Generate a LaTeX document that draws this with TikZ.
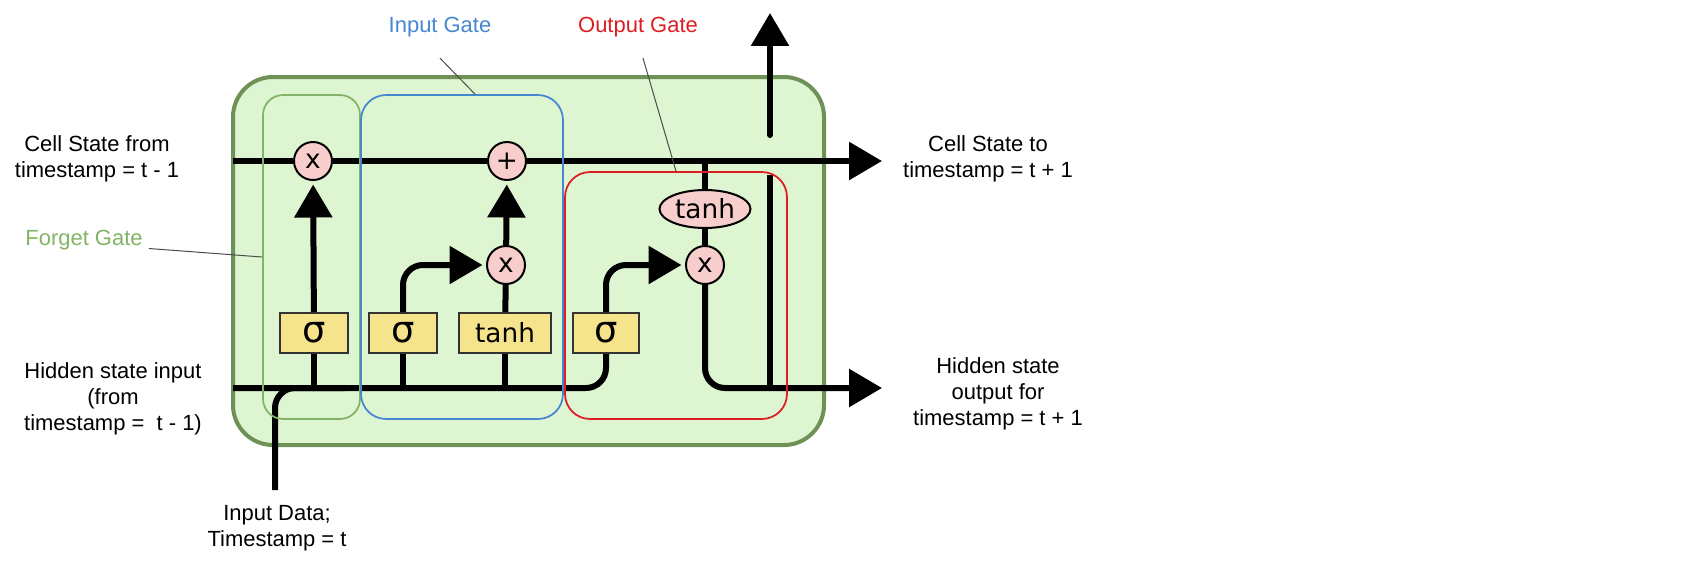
\documentclass[tikz,border=0pt]{standalone}
\usepackage{fontspec}
\setmainfont{Liberation Sans}
\newfontfamily\symfont{DejaVu Sans}
\usepackage{tikz}
\usetikzlibrary{arrows.meta,positioning,shapes.geometric,calc}
\definecolor{cellfill}{RGB}{222,245,209}
\definecolor{celledge}{RGB}{110,145,85}
\definecolor{forgetgreen}{RGB}{130,179,102}
\definecolor{inputblue}{RGB}{70,135,210}
\definecolor{outputred}{RGB}{220,30,35}
\definecolor{opfill}{RGB}{248,206,204}
\definecolor{actfill}{RGB}{245,228,140}

\begin{document}
\begin{tikzpicture}[
    x=0.02cm, y=-0.02cm,
    note/.style={font=\fontsize{12.5}{14.8}\selectfont, align=center},
    op/.style={circle, draw, line width=0.04cm, fill=opfill, minimum size=0.76cm,
               inner sep=0pt, font=\symfont\fontsize{15}{18}\selectfont},
    act/.style={rectangle, draw=black!80, line width=0.04cm, fill=actfill,
                minimum height=0.8cm, inner sep=0pt, font=\symfont\fontsize{15}{18}\selectfont},
    sig/.style={act, font=\symfont\fontsize{21}{24}\selectfont},
    gatebox/.style={draw, rounded corners=0.5cm, line width=0.035cm, inner sep=0pt},
    wire/.style={line width=0.12cm},
    flow/.style={wire, -{Triangle[length=0.66cm,width=0.74cm]}},
    lead/.style={draw=black!70, line width=0.02cm},
]
    \useasboundingbox (0,0) rectangle (1702,585);
    \draw[fill=cellfill, draw=celledge, line width=0.08cm, rounded corners=0.8cm]
        (233,77) rectangle (824,445);

    \node[op] (fx) at (313,161) {x};
    \node[op] (add) at (507,161) {+};
    \node[op] (ix) at (506,265) {x};
    \node[op] (ox) at (705,265) {x};
    \node[ellipse, draw, line width=0.04cm, fill=opfill, minimum width=1.82cm,
          minimum height=0.76cm, inner sep=0pt, font=\symfont\fontsize{15}{18}\selectfont]
        (th) at (705,209) {tanh};

    \node[sig, minimum width=1.36cm] (s1) at (314,333) {σ};
    \node[sig, minimum width=1.36cm] (s2) at (403,333) {σ};
    \node[act, minimum width=1.84cm] (tb) at (505,333) {tanh};
    \node[sig, minimum width=1.32cm] (s3) at (606,333) {σ};

    \coordinate (cin) at (233,161);
    \coordinate (cout) at (882,161);
    \coordinate (hin) at (233,388);
    \coordinate (hout) at (882,388);
    \coordinate (xin) at (275,490);
    \coordinate (xmerge) at (345,388);
    \coordinate (hjoin) at (770,388);
    \coordinate (hcut) at (770,175);
    \coordinate (hgap) at (770,135);
    \coordinate (htop) at (770,13);

    % cell state and hidden state
    \draw[flow] (cin) -- (fx) -- (add) -- (cout);
    \draw[wire, rounded corners=0.4cm] (hin) -| (s3);
    \draw[wire, rounded corners=0.4cm] (xin) |- (xmerge);
    \draw[flow, rounded corners=0.4cm] (ox) |- (hout);
    \draw[wire] (hjoin) -- (hcut);
    \draw[flow, line cap=round] (hgap) -- (htop);

    \draw[wire] (s1.south |- hin) -- (s1);
    \draw[wire] (s2.south |- hin) -- (s2);
    \draw[wire] (tb.south |- hin) -- (tb);
    \draw[flow, shorten >=2pt] (s1) -- (fx);
    \draw[flow, rounded corners=0.4cm, shorten >=2pt] (s2) |- (ix);
    \draw[wire] (tb) -- (ix);
    \draw[flow, shorten >=2pt] (ix) -- (add);
    \draw[flow, rounded corners=0.4cm, shorten >=2pt] (s3) |- (ox);
    \draw[wire] (th |- cin) -- (th);
    \draw[wire] (th) -- (ox);

    \node[gatebox, draw=forgetgreen, rounded corners=0.4cm, minimum width=1.94cm,
          minimum height=6.48cm] (forget) at (311.5,257) {};
    \node[gatebox, draw=inputblue, minimum width=4.04cm, minimum height=6.48cm]
        (input) at (462,257) {};
    \node[gatebox, draw=outputred, minimum width=4.44cm, minimum height=4.94cm]
        (output) at (676,295.5) {};

    \node[note, text=forgetgreen] (fg) at (84,240) {Forget Gate};
    \node[note, text=inputblue] (ig) at (440,27) {Input Gate};
    \node[note, text=outputred] (og) at (638,27) {Output Gate};
    \draw[lead] ([yshift=-0.17cm]fg.east) -- (forget.west);
    \draw[lead] ([yshift=-0.3cm]ig.south) -- ([xshift=0.26cm]input.north);
    \draw[lead] ([xshift=0.1cm,yshift=-0.3cm]og.south) -- (output.north);

    \node[note] (cs1) at (97,159) {Cell State from\\timestamp = t - 1};
    \node[note] (cs2) at (988,159) {Cell State to\\timestamp = t + 1};
    \node[note] (hs1) at (113,399) {Hidden state input\\(from\\timestamp =~~t - 1)};
    \node[note] (hs2) at (998,394) {Hidden state\\output for\\timestamp = t + 1};
    \node[note] (xd) at (277,528) {Input Data;\\Timestamp = t};
\end{tikzpicture}
\end{document}
